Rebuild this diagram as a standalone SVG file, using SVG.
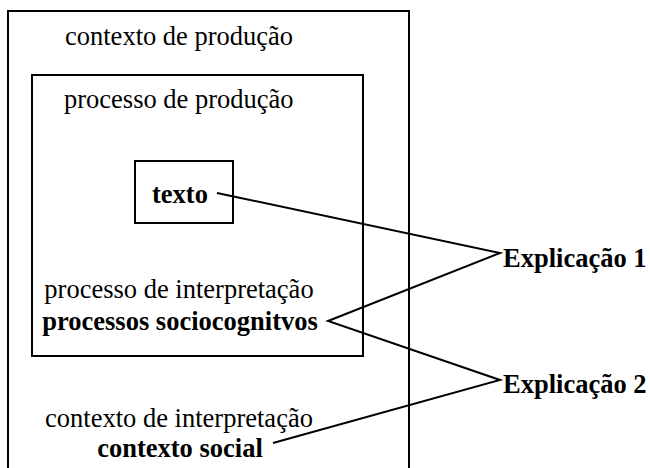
<svg xmlns="http://www.w3.org/2000/svg" width="650" height="468" viewBox="0 0 650 468">
<style>
.box{fill:none;stroke:#000;stroke-width:2}
text{font-family:"Liberation Serif","Times New Roman",serif;font-size:26.5px;fill:#000}
.b{font-weight:bold}
.c{text-anchor:middle}
.ln{fill:none;stroke:#000;stroke-width:2}
</style>
<rect width="650" height="468" fill="#fff"/>
<g id="contexto-producao">
<rect class="box" x="8" y="11" width="401" height="470"/>
<text x="65" y="45">contexto de produção</text>
</g>
<g id="processo-producao">
<rect class="box" x="32" y="75" width="331" height="281"/>
<text x="64" y="108">processo de produção</text>
</g>
<g id="texto">
<rect class="box" x="135" y="161" width="98" height="62"/>
<text class="b" x="152" y="203">texto</text>
</g>
<g id="processo-interpretacao">
<text class="c" x="179" y="298">processo de interpretação</text>
<text class="c b" x="180" y="330">processos sociocognitvos</text>
</g>
<g id="contexto-interpretacao">
<text class="c" x="179" y="427">contexto de interpretação</text>
<text class="c b" x="180" y="457">contexto social</text>
</g>
<g id="explicacao1">
<text class="b" x="503" y="267">Explicação 1</text>
</g>
<g id="explicacao2">
<text class="b" x="503" y="393">Explicação 2</text>
</g>
<g id="connectors">
<polyline class="ln" points="217,193 500,253 328,321 500,380 273,443"/>
</g>
</svg>
